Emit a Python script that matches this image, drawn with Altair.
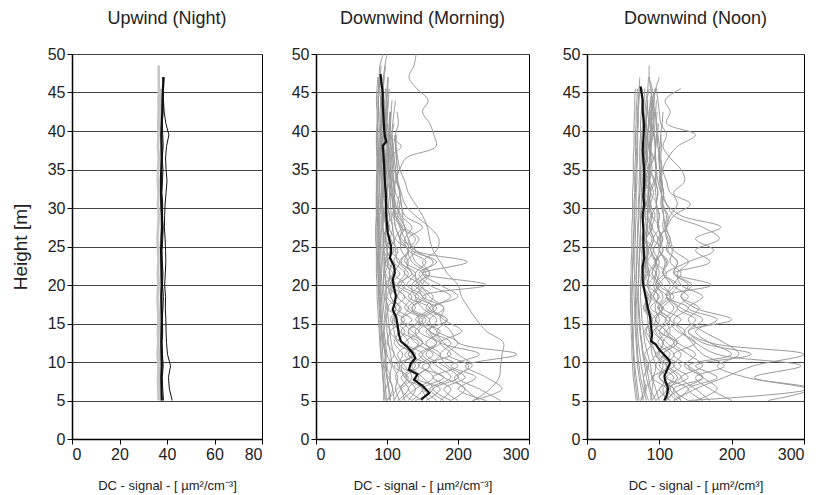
import altair as alt
import pandas as pd

# Height grid (m) used by the individual profiles
H = [5 + 1.5 * i for i in range(31)]

# ---------------- Upwind (Night) ----------------
up_gray = [
    [36.5, 36.3, 36.2, 36.4, 36.0, 36.3, 36.1, 36.4, 36.2, 36.0, 36.3, 36.1, 36.4, 36.2, 36.0, 36.3,
     36.5, 36.2, 36.4, 36.1, 36.3, 36.5, 36.2, 36.4, 36.3, 36.5, 36.4, 36.6, 36.5, 36.5],
    [37.5, 37.2, 37.0, 37.3, 37.1, 37.4, 37.2, 37.0, 37.3, 37.5, 37.2, 37.4, 37.6, 37.3, 37.5, 37.8,
     38.0, 37.6, 37.4, 37.7, 37.5, 37.3, 37.6, 37.4, 37.2, 37.5, 37.3, 37.4],
]
up_thin = [
    [42.2, 41.0, 40.6, 41.5, 40.2, 39.8, 39.6, 39.5, 39.3, 39.4, 39.0, 39.3, 39.5, 39.4, 39.2, 38.9,
     39.0, 39.2, 39.6, 40.0, 39.6, 39.4, 39.8, 40.8, 39.5, 38.8, 38.5, 38.3, 38.2],
    [38.5, 38.2, 38.0, 38.4, 38.1, 37.9, 38.2, 38.0, 38.3, 38.5, 38.1, 38.3, 38.0, 37.9, 38.2, 38.4,
     38.0, 38.2, 37.8, 38.1, 38.3, 38.0, 38.4, 38.2, 38.0, 38.3, 38.5, 38.4, 38.6],
]
up_mean = [37.8, 37.7, 37.6, 37.8, 37.7, 37.6, 37.7, 37.8, 37.7, 37.6, 37.8, 37.7, 37.6, 37.5, 37.7,
           37.9, 37.8, 37.6, 37.5, 37.4, 37.6, 37.8, 37.7, 37.6, 37.8, 38.0, 38.1, 38.3, 38.6]

# ---------------- Downwind (Morning) ----------------
morning_profiles = [
    [96, 95, 94, 93, 92, 91, 90, 90, 89, 88, 88, 87, 87, 86, 86, 86, 85, 85, 85, 86, 86, 86, 85, 85, 86, 86, 85, 86, 87],
    [100, 98, 97, 95, 94, 93, 92, 91, 90, 90, 89, 89, 88, 88, 88, 87, 87, 87, 87, 87, 88, 88, 88, 87, 87, 88, 88, 89, 90, 92],
    [105, 103, 100, 98, 99, 96, 95, 94, 93, 92, 91, 91, 90, 90, 89, 89, 89, 88, 89, 89, 89, 90, 89, 89, 90, 90, 91, 90, 92],
    [110, 108, 104, 106, 100, 98, 96, 97, 95, 94, 93, 92, 92, 91, 91, 90, 90, 91, 90, 90, 91, 91, 90, 91, 91, 92, 92, 93, 93],
    [118, 112, 115, 108, 105, 102, 100, 99, 98, 96, 95, 95, 94, 93, 93, 92, 92, 92, 92, 93, 92, 93, 93, 92, 93, 94, 94, 95, 96],
    [125, 120, 112, 118, 110, 106, 104, 102, 100, 99, 98, 97, 96, 95, 95, 94, 94, 94, 95, 94, 95, 95, 94, 95, 96, 96, 97, 98],
    [100, 108, 102, 96, 98, 94, 92, 92, 91, 89, 88, 88, 87, 86, 86, 86, 87, 86, 86, 86, 87, 87, 86, 87, 87, 88, 88, 88, 89, 90, 95],
    [130, 140, 125, 120, 135, 115, 110, 108, 112, 105, 102, 104, 100, 100, 98, 98, 97, 98, 97, 96, 97, 96, 96, 97, 98, 98, 99, 100, 101],
    [140, 165, 150, 135, 150, 125, 145, 120, 130, 115, 125, 110, 118, 105, 110, 102, 104, 100, 101, 100, 100, 99, 100, 99, 100, 101, 102, 103],
    [160, 150, 180, 145, 165, 140, 130, 150, 125, 135, 115, 125, 110, 115, 105, 108, 103, 102, 104, 101, 103, 102, 101, 102, 103, 104],
    [175, 190, 165, 200, 170, 155, 175, 140, 160, 130, 145, 125, 130, 120, 118, 112, 110, 108, 107, 106, 105, 106, 105, 104, 105, 106, 107],
    [200, 180, 210, 185, 175, 190, 160, 150, 170, 140, 135, 150, 125, 130, 118, 122, 112, 110, 111, 109, 108, 110, 108, 107, 108, 110, 112],
    [230, 210, 195, 220, 200, 180, 170, 185, 155, 165, 145, 140, 155, 130, 125, 135, 120, 115, 118, 113, 112, 114, 113, 112, 116, 114],
    [220, 262, 240, 210, 283, 200, 190, 175, 180, 160, 150, 160, 140, 135, 145, 125, 122, 120, 118, 115, 115, 113, 112, 114],
    [222, 245, 258, 260, 262, 264, 240, 226, 215, 205, 200, 185, 175, 165, 160, 157, 150, 140, 130, 125, 118, 115, 112, 110],
    [180, 160, 190, 170, 150, 175, 160, 145, 165, 150, 240, 150, 213, 140, 130, 150, 125, 120, 118, 115, 112, 110, 108, 107, 110],
    [135, 150, 125, 145, 130, 150, 135, 120, 140, 125, 115, 135, 120, 130, 118, 125, 115, 108, 110, 112, 118, 127, 169, 166, 160, 150, 158, 142, 131, 138, 141],
    [115, 130, 120, 140, 125, 150, 130, 145, 135, 155, 140, 160, 150, 170, 173, 160, 140, 125, 120, 115, 110, 108, 106, 105, 104, 105],
    [95, 98, 105, 100, 110, 100, 104, 98, 102, 97, 100, 96, 98, 95, 96, 94, 95, 94, 93, 93, 92, 93, 92, 92, 93, 93, 94, 94, 95, 97, 100],
    [150, 130, 145, 120, 135, 115, 125, 110, 118, 105, 112, 103, 108, 100, 104, 98, 100, 97, 99, 98, 100, 102, 120, 100, 98, 99, 100, 101, 102],
    [260, 230, 200, 215, 185, 200, 170, 160, 180, 150, 145, 155, 135, 130, 140, 120, 115, 118, 112, 110, 108, 107, 109, 106],
    [120, 140, 165, 150, 190, 175, 205, 180, 165, 190, 160, 145, 170, 135, 125, 118, 112, 110, 108, 106, 105, 104, 103, 104, 105],
    [190, 210, 180, 160, 175, 150, 140, 155, 130, 145, 120, 130, 115, 112, 110, 108, 106, 105, 104, 103, 102, 103, 102, 103, 104, 105],
    [110, 120, 135, 125, 115, 130, 118, 110, 120, 105, 108, 103, 106, 100, 102, 99, 100, 98, 99, 97, 98, 98, 97, 98, 99, 100, 101],
    [170, 150, 140, 160, 145, 170, 155, 185, 160, 200, 175, 150, 165, 140, 130, 125, 118, 112, 110, 108, 106, 105, 104],
    [240, 200, 225, 190, 230, 175, 160, 170, 150, 140, 150, 135, 128, 140, 120, 112, 110, 108, 106, 104, 103, 102, 101, 100, 101],
    [98, 96, 95, 93, 91, 90, 89, 88, 87, 86, 86, 85, 85, 85, 84, 84, 85, 85, 85, 85, 86, 86, 86, 86, 87, 87, 87, 88, 88],
    [104, 102, 100, 99, 97, 95, 93, 92, 91, 91, 90, 90, 89, 89, 89, 88, 88, 89, 89, 89, 90, 90, 91, 91, 92, 92, 93, 94, 96, 98],
    [135, 120, 128, 115, 122, 110, 116, 105, 112, 100, 106, 98, 102, 96, 99, 94, 96, 93, 94, 92, 93, 92, 91, 92, 93, 94],
    [155, 175, 140, 160, 130, 145, 120, 135, 112, 125, 105, 118, 100, 110, 97, 104, 96, 100, 95, 97, 94, 95, 94, 95, 96],
    [100, 115, 130, 110, 140, 120, 105, 125, 100, 115, 98, 108, 96, 104, 95, 100, 94, 98, 93, 96, 92, 94, 93, 94, 95, 96, 97],
    [190, 165, 200, 180, 155, 170, 145, 160, 135, 150, 128, 140, 118, 130, 112, 120, 108, 112, 104, 106, 102, 101, 100, 99, 100],
]
morning_mean_h = [5.1, 6.0, 6.9, 7.7, 8.4, 9.0, 9.7, 10.5, 11.2, 12.0, 12.7, 13.5, 14.7, 15.8, 16.8, 17.7,
                  18.6, 19.6, 20.7, 21.6, 22.5, 23.5, 24.3, 25.1, 26.8, 29.0, 31.6, 33.5, 35.5, 37.0,
                  38.1, 38.6, 39.3, 40.2, 42.0, 43.5, 45.0, 46.3, 47.4]
morning_mean_v = [148, 159.5, 150, 138, 143, 131, 133, 140, 136, 128, 119.5, 117, 115, 113, 108, 111,
                  112.5, 110, 108, 111, 110, 104, 106, 105.5, 101, 99, 98.5, 97, 96, 95,
                  94, 99, 97, 96, 95, 94, 94, 92, 91]

# ---------------- Downwind (Noon) ----------------
noon_profiles = [
    [68, 66, 64, 63, 62, 62, 61, 61, 60, 60, 60, 61, 61, 62, 62, 62, 63, 63, 63, 64, 64, 64, 65, 65, 65, 66, 66, 67],
    [72, 70, 68, 66, 65, 64, 64, 63, 63, 62, 62, 63, 63, 64, 64, 65, 65, 65, 66, 66, 66, 67, 67, 67, 68, 68, 69, 70],
    [78, 75, 72, 70, 69, 68, 67, 66, 66, 65, 65, 66, 66, 66, 67, 67, 68, 68, 68, 69, 69, 70, 70, 70, 71, 71, 72, 73],
    [85, 80, 78, 75, 73, 71, 70, 69, 69, 68, 68, 68, 69, 69, 70, 70, 71, 71, 72, 72, 73, 73, 73, 74, 74, 75, 76, 77],
    [95, 88, 85, 82, 78, 76, 74, 73, 72, 71, 71, 72, 72, 73, 73, 74, 74, 75, 75, 76, 76, 77, 78, 78, 79, 80, 82, 84, 85],
    [100, 95, 90, 88, 84, 80, 78, 76, 75, 74, 74, 75, 76, 76, 77, 78, 78, 79, 80, 80, 81, 82, 83, 84, 85, 86, 88, 90],
    [110, 120, 100, 105, 95, 90, 86, 84, 82, 80, 79, 80, 81, 82, 82, 83, 84, 84, 85, 86, 86, 87, 88, 88, 89, 90, 92, 95],
    [90, 100, 110, 95, 105, 92, 88, 95, 85, 90, 83, 86, 82, 84, 80, 82, 80, 81, 80, 82, 81, 82, 83, 84, 85, 86, 88, 90, 85],
    [120, 150, 190, 230, 300, 170, 140, 160, 130, 115, 125, 105, 110, 100, 104, 98, 100, 96, 98, 95, 96, 94, 95, 93, 94, 95, 96],
    [140, 305, 231, 296, 180, 150, 130, 120, 140, 110, 115, 105, 108, 100, 102, 98, 97, 96, 95, 94, 95, 94, 95, 96],
    [160, 140, 180, 150, 227, 160, 140, 200, 150, 130, 140, 120, 125, 110, 112, 105, 106, 102, 103, 100, 101, 99, 100, 98, 99],
    [130, 115, 125, 110, 120, 105, 115, 108, 120, 110, 172, 120, 170, 150, 183, 160, 120, 110, 105, 104, 100, 100, 98, 97, 96, 97],
    [105, 115, 100, 110, 98, 105, 95, 100, 94, 98, 92, 96, 95, 100, 98, 110, 120, 143, 115, 110, 105, 112, 125, 150, 110, 115, 108, 130],
    [125, 110, 140, 120, 130, 110, 100, 115, 98, 105, 95, 100, 96, 105, 100, 110, 115, 125, 120, 135, 130, 115, 105, 110, 102, 100, 98, 96],
    [150, 180, 160, 140, 200, 170, 150, 180, 140, 160, 130, 125, 140, 120, 115, 110, 112, 105, 106, 103, 104, 102, 103, 102, 104, 105],
    [200, 170, 150, 190, 160, 145, 135, 150, 125, 140, 120, 130, 115, 118, 110, 108, 106, 104, 103, 102, 101, 100, 101, 102],
    [250, 310, 220, 180, 210, 190, 160, 140, 155, 130, 145, 120, 125, 112, 115, 108, 110, 104, 106, 102, 103, 101, 100],
    [110, 105, 120, 100, 115, 98, 108, 95, 103, 92, 100, 90, 96, 88, 92, 86, 90, 85, 88, 84, 86, 83, 85, 84, 86, 88, 90, 95, 100],
    [88, 90, 92, 95, 90, 88, 86, 90, 85, 88, 84, 86, 83, 85, 82, 84, 83, 85, 84, 86, 85, 87, 86, 88, 87, 89, 90, 88, 86, 86],
    [130, 120, 100, 115, 105, 125, 110, 95, 105, 92, 100, 90, 95, 88, 92, 87, 90, 86, 88, 86, 87, 86, 88, 87, 89, 90, 92],
    [170, 150, 130, 160, 140, 120, 135, 115, 125, 110, 120, 105, 112, 100, 105, 98, 100, 96, 98, 95, 96, 94, 95, 96, 97],
    [105, 130, 160, 140, 120, 150, 125, 110, 100, 115, 105, 95, 100, 92, 98, 90, 94, 88, 92, 87, 90, 88, 89, 90, 91, 92, 93, 94],
    [75, 82, 78, 85, 80, 90, 82, 88, 80, 86, 78, 84, 80, 85, 82, 90, 84, 88, 85, 92, 86, 90, 87, 92, 88, 94, 90, 96],
    [120, 140, 110, 130, 105, 125, 100, 115, 98, 110, 95, 108, 140, 175, 150, 185, 130, 110, 102, 98, 96, 95, 94, 93, 92, 94],
    [70, 68, 66, 65, 64, 63, 63, 62, 62, 62, 63, 63, 64, 64, 65, 65, 66, 66, 67, 67, 68, 68, 69, 69, 70, 70, 71, 72, 73],
    [82, 78, 74, 72, 70, 69, 68, 67, 67, 67, 68, 68, 69, 70, 70, 71, 72, 72, 73, 74, 74, 75, 75, 76, 77, 78, 79, 80],
    [90, 86, 82, 80, 77, 75, 73, 72, 71, 70, 71, 71, 72, 73, 74, 74, 75, 76, 77, 77, 78, 79, 80, 81, 82, 83, 84],
    [74, 80, 90, 84, 95, 86, 80, 88, 78, 84, 76, 82, 78, 80, 76, 79, 77, 80, 78, 81, 79, 82, 80, 83, 81, 84, 83, 86],
    [95, 110, 90, 120, 100, 105, 92, 110, 88, 100, 85, 95, 84, 92, 82, 90, 80, 88, 80, 86, 79, 84, 80, 83, 81, 82, 84],
    [115, 100, 130, 110, 95, 120, 100, 90, 105, 88, 98, 86, 94, 84, 90, 82, 88, 82, 86, 81, 84, 80, 82, 81, 82],
    [140, 120, 160, 135, 150, 125, 110, 130, 105, 120, 100, 110, 95, 105, 92, 100, 90, 96, 88, 94, 87, 92, 86, 90, 88],
]
noon_mean_h = [5.0, 5.6, 6.5, 6.9, 7.6, 8.2, 8.6, 9.3, 9.9, 10.3, 11.0, 11.6, 12.3, 12.7, 13.5, 14.7, 16.0,
               17.0, 18.1, 19.4, 20.5, 22.4, 23.5, 25.1, 27.0, 29.0, 30.5, 31.5, 33.0, 35.0, 37.5, 39.0,
               40.7, 42.5, 44.0, 45.8]
noon_mean_v = [107, 110, 112, 111, 108, 107, 109, 112, 115, 113, 106, 100, 95, 88.5, 90, 88.5, 87,
               84, 82, 79, 77, 77, 79, 78, 78, 77, 79, 78, 79, 79, 77, 78, 79, 77, 77, 74]

titles = ["Upwind (Night)", "Downwind (Morning)", "Downwind (Noon)"]
x_titles = ["DC - signal - [ µm²/cm⁻³]", "DC - signal - [ µm²/cm⁻³]", "DC - signal - [ µm²/cm³]"]
y_title = "Height [m]"
x_ticks_up = [0, 20, 40, 60, 80]
x_ticks_down = [0, 100, 200, 300]
y_ticks = [0, 5, 10, 15, 20, 25, 30, 35, 40, 45, 50]

FONT = "Liberation Sans"


def grid_df(profiles, tag):
    rows = []
    for j, p in enumerate(profiles):
        for i, v in enumerate(p):
            rows.append({"sid": f"{tag}{j}", "idx": i, "h": H[i], "v": v})
    return pd.DataFrame(rows)


def curve_df(hs, vs, tag):
    return pd.DataFrame({"sid": tag, "idx": list(range(len(hs))), "h": hs, "v": vs})


def line_layer(df, color, width, xdom, xticks, xtitle, ytitle, interp="linear"):
    if ytitle:
        yaxis = alt.Axis(values=y_ticks, grid=True, title=ytitle)
    else:
        yaxis = alt.Axis(values=y_ticks, grid=True, title=None)
    return alt.Chart(df).mark_line(color=color, strokeWidth=width, clip=True, interpolate=interp).encode(
        x=alt.X("v:Q", scale=alt.Scale(domain=xdom, nice=False, zero=False),
                axis=alt.Axis(values=xticks, grid=False, title=xtitle)),
        y=alt.Y("h:Q", scale=alt.Scale(domain=[0, 50], nice=False), axis=yaxis),
        detail="sid:N",
        order="idx:Q",
    )


# Panel 1
p1 = alt.layer(
    line_layer(grid_df(up_gray, "g"), "#c4c4c4", 2.5, [0, 80], x_ticks_up, x_titles[0], y_title),
    line_layer(grid_df(up_thin, "t"), "#111111", 1.0, [0, 80], x_ticks_up, x_titles[0], y_title),
    line_layer(grid_df([up_mean], "m"), "#111111", 2.2, [0, 80], x_ticks_up, x_titles[0], y_title),
).properties(width=190, height=385, title=titles[0])

# Panel 2
p2 = alt.layer(
    line_layer(grid_df(morning_profiles, "g"), "#9a9a9a", 1.0, [0, 300], x_ticks_down, x_titles[1], None, "catmull-rom"),
    line_layer(curve_df(morning_mean_h, morning_mean_v, "m"), "#111111", 2.2, [0, 300], x_ticks_down, x_titles[1], None),
).properties(width=213, height=385, title=titles[1])

# Panel 3
p3 = alt.layer(
    line_layer(grid_df(noon_profiles, "g"), "#9a9a9a", 1.0, [0, 300], x_ticks_down, x_titles[2], None, "catmull-rom"),
    line_layer(curve_df(noon_mean_h, noon_mean_v, "m"), "#111111", 2.2, [0, 300], x_ticks_down, x_titles[2], None),
).properties(width=217, height=385, title=titles[2])

chart = alt.hconcat(p1, alt.hconcat(p2, p3, spacing=31), spacing=27).properties(
    padding={"left": 10, "top": 9, "right": 5, "bottom": 5}
).configure_view(
    stroke="black", strokeWidth=1
).configure_axis(
    labelFont=FONT, titleFont=FONT, labelFontSize=16, labelColor="#222222",
    domainColor="black", domainWidth=1.5, tickColor="black", tickSize=5, labelPadding=2,
    gridColor="#444444", gridWidth=1, titleFontWeight="normal", titleColor="#222222",
).configure_axisX(
    titleFontSize=13, titlePadding=17
).configure_axisY(
    titleFontSize=19, titlePadding=17
).configure_title(
    font=FONT, fontSize=18, fontWeight="normal", color="#222222", offset=18
)

chart.save("out.html", embed_options={"renderer": "svg", "actions": False})
